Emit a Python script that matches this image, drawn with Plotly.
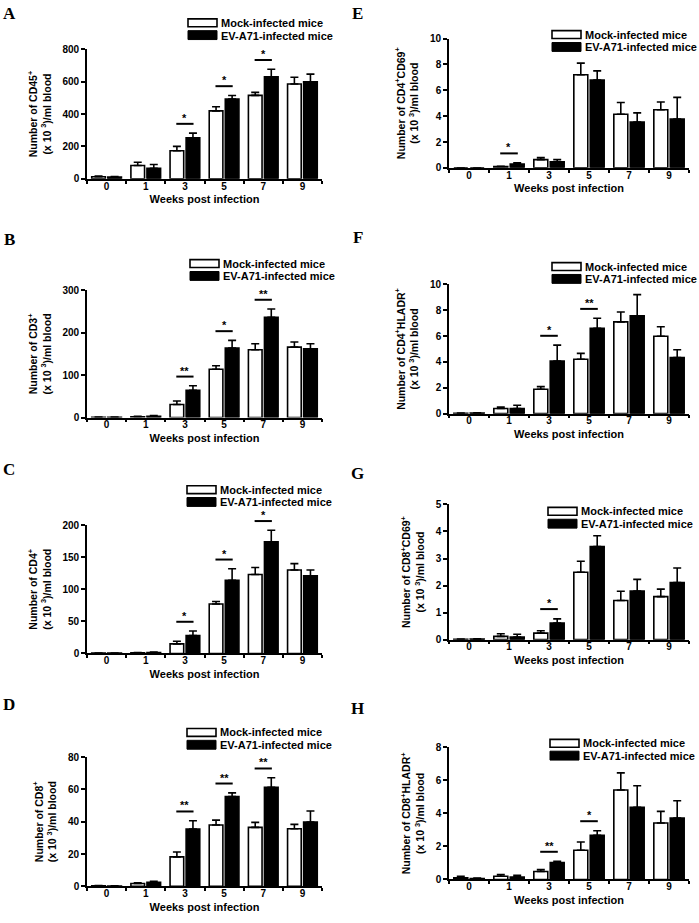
import plotly.graph_objects as go

# ---------------- data ----------------
weeks = ["0", "1", "3", "5", "7", "9"]
series_names = ["Mock-infected mice", "EV-A71-infected mice"]

cd45_mock = [12, 82, 173, 420, 516, 586]
cd45_mock_err = [5, 20, 27, 25, 18, 42]
cd45_ev = [10, 65, 253, 493, 631, 600]
cd45_ev_err = [4, 23, 29, 22, 46, 47]
cd45_sig = [("3", "*"), ("5", "*"), ("7", "*")]

cd3_mock = [0.8, 2, 31, 114, 160, 166]
cd3_mock_err = [0.5, 1, 8, 8, 14, 12]
cd3_ev = [0.8, 3, 64, 164, 236, 162]
cd3_ev_err = [0.5, 1.5, 11, 18, 20, 12]
cd3_sig = [("3", "**"), ("5", "*"), ("7", "**")]

cd4_mock = [0.5, 1, 15, 77, 123, 130]
cd4_mock_err = [0.3, 0.5, 4, 4, 11, 10]
cd4_ev = [0.5, 1.5, 28, 114, 174, 121]
cd4_ev_err = [0.3, 0.7, 7, 18, 18, 9]
cd4_sig = [("3", "*"), ("5", "*"), ("7", "*")]

cd8_mock = [0.3, 1.8, 18.3, 38, 36.5, 35.7]
cd8_mock_err = [0.2, 0.5, 3, 3, 3.1, 2.7]
cd8_ev = [0.2, 2.6, 35.5, 55.6, 61.3, 39.8]
cd8_ev_err = [0.1, 0.6, 5.1, 2.3, 5.9, 6.9]
cd8_sig = [("3", "**"), ("5", "**"), ("7", "**")]

cd4cd69_mock = [0, 0.1, 0.64, 7.2, 4.15, 4.5]
cd4cd69_mock_err = [0, 0.03, 0.15, 0.9, 0.9, 0.6]
cd4cd69_ev = [0, 0.3, 0.46, 6.8, 3.54, 3.77]
cd4cd69_ev_err = [0, 0.1, 0.18, 0.7, 0.71, 1.68]
cd4cd69_sig = [("1", "*")]

cd4hladr_mock = [0.03, 0.4, 1.88, 4.2, 7.1, 5.98]
cd4hladr_mock_err = [0.01, 0.1, 0.21, 0.46, 0.76, 0.74]
cd4hladr_ev = [0.05, 0.4, 4.07, 6.59, 7.56, 4.33]
cd4hladr_ev_err = [0.02, 0.25, 1.23, 0.79, 1.64, 0.61]
cd4hladr_sig = [("3", "*"), ("5", "**")]

cd8cd69_mock = [0.01, 0.12, 0.24, 2.49, 1.45, 1.59]
cd8cd69_mock_err = [0.01, 0.1, 0.09, 0.41, 0.34, 0.28]
cd8cd69_ev = [0.02, 0.1, 0.61, 3.44, 1.8, 2.11]
cd8cd69_ev_err = [0.01, 0.1, 0.16, 0.4, 0.43, 0.54]
cd8cd69_sig = [("3", "*")]

cd8hladr_mock = [0.1, 0.2, 0.48, 1.77, 5.41, 3.42]
cd8hladr_mock_err = [0.1, 0.1, 0.12, 0.5, 1.04, 0.7]
cd8hladr_ev = [0.06, 0.15, 1.03, 2.67, 4.36, 3.72]
cd8hladr_ev_err = [0.03, 0.1, 0.07, 0.28, 1.31, 1.04]
cd8hladr_sig = [("3", "**"), ("5", "*")]

y_labels = {
    "A": "CD45<sup>+</sup>", "B": "CD3<sup>+</sup>", "C": "CD4<sup>+</sup>", "D": "CD8<sup>+</sup>",
    "E": "CD4<sup>+</sup>CD69<sup>+</sup>", "F": "CD4<sup>+</sup>HLADR<sup>+</sup>",
    "G": "CD8<sup>+</sup>CD69<sup>+</sup>", "H": "CD8<sup>+</sup>HLADR<sup>+</sup>",
}
x_title = "Weeks post infection"

# ---------------- layout geometry (pixels) ----------------
W, H = 699, 923
COLS = [(87, 322), (449, 689)]

panels = [
    dict(letter="A", mock=cd45_mock, merr=cd45_mock_err, ev=cd45_ev, everr=cd45_ev_err, sig=cd45_sig,
         ymax=800, dtick=200, col=0, ypx=(44, 175), leg=(188, 13), lpos=(9, 8)),
    dict(letter="B", mock=cd3_mock, merr=cd3_mock_err, ev=cd3_ev, everr=cd3_ev_err, sig=cd3_sig,
         ymax=300, dtick=100, col=0, ypx=(288, 417), leg=(190, 257), lpos=(9, 237)),
    dict(letter="C", mock=cd4_mock, merr=cd4_mock_err, ev=cd4_ev, everr=cd4_ev_err, sig=cd4_sig,
         ymax=200, dtick=50, col=0, ypx=(526, 656), leg=(187, 486), lpos=(9, 470)),
    dict(letter="D", mock=cd8_mock, merr=cd8_mock_err, ev=cd8_ev, everr=cd8_ev_err, sig=cd8_sig,
         ymax=80, dtick=20, col=0, ypx=(761, 892), leg=(187, 732), lpos=(9, 708)),
    dict(letter="E", mock=cd4cd69_mock, merr=cd4cd69_mock_err, ev=cd4cd69_ev, everr=cd4cd69_ev_err, sig=cd4cd69_sig,
         ymax=10, dtick=2, col=1, ypx=(33, 164), leg=(552, 25), lpos=(358, 8)),
    dict(letter="F", mock=cd4hladr_mock, merr=cd4hladr_mock_err, ev=cd4hladr_ev, everr=cd4hladr_ev_err, sig=cd4hladr_sig,
         ymax=10, dtick=2, col=1, ypx=(282, 413), leg=(552, 260), lpos=(358, 235)),
    dict(letter="G", mock=cd8cd69_mock, merr=cd8cd69_mock_err, ev=cd8cd69_ev, everr=cd8cd69_ev_err, sig=cd8cd69_sig,
         ymax=5, dtick=1, col=1, ypx=(505, 642), leg=(548, 508), lpos=(358, 474)),
    dict(letter="H", mock=cd8hladr_mock, merr=cd8hladr_mock_err, ev=cd8hladr_ev, everr=cd8hladr_ev_err, sig=cd8hladr_sig,
         ymax=8, dtick=2, col=1, ypx=(751, 885), leg=(550, 743), lpos=(358, 712)),
]

FONT = "Liberation Sans, Arial, sans-serif"
SERIF = "Liberation Serif, Times New Roman, serif"


def fx(x):
    return x / W


def fy(y):
    return 1 - y / H


fig = go.Figure()
shapes = []
annotations = []
layout = {}

for i, p in enumerate(panels, start=1):
    sfx = "" if i == 1 else str(i)
    xa, ya = "x" + sfx, "y" + sfx
    zeros = [0] * len(weeks)
    fig.add_trace(go.Bar(
        x=weeks, y=p["mock"], name=series_names[0], xaxis=xa, yaxis=ya, showlegend=False,
        marker=dict(color="white", line=dict(color="black", width=1.6)),
        error_y=dict(type="data", symmetric=False, array=p["merr"], arrayminus=zeros,
                     color="black", thickness=1.6, width=4),
    ))
    fig.add_trace(go.Bar(
        x=weeks, y=p["ev"], name=series_names[1], xaxis=xa, yaxis=ya, showlegend=False,
        marker=dict(color="black", line=dict(color="black", width=1.6)),
        error_y=dict(type="data", symmetric=False, array=p["everr"], arrayminus=zeros,
                     color="black", thickness=1.6, width=4),
    ))
    x0, x1 = COLS[p["col"]]
    layout["xaxis" + sfx] = dict(
        domain=[fx(x0), fx(x1)], anchor=ya, type="category", showline=True, linecolor="black",
        linewidth=1.6, ticks="outside", tickson="boundaries", ticklen=3, tickwidth=1.6,
        tickcolor="black", showgrid=False, zeroline=False, fixedrange=True, ticklabelstandoff=-3,
        tickfont=dict(family=FONT, size=10, color="black", weight="bold"),
        title=dict(text=x_title, font=dict(family=FONT, size=11, color="black", weight="bold"), standoff=5),
    )
    layout["yaxis" + sfx] = dict(
        domain=[fy(p["ypx"][1]), fy(p["ypx"][0])], anchor=xa, range=[0, p["ymax"]],
        tickmode="linear", tick0=0, dtick=p["dtick"], showline=True, linecolor="black",
        linewidth=1.6, ticks="outside", ticklen=4, tickwidth=1.6, tickcolor="black",
        showgrid=False, zeroline=False, fixedrange=True,
        tickfont=dict(family=FONT, size=10, color="black", weight="bold"),
        title=dict(text="Number of " + y_labels[p["letter"]] + "<br>(x 10 <sup>3</sup>)/ml blood",
                   font=dict(family=FONT, size=10.5, color="black", weight="bold"), standoff=9),
    )
    # significance bars (y in axis-domain units so they may sit above the axis top)
    for wk, star in p["sig"]:
        k = weeks.index(wk)
        top = max(p["mock"][k] + p["merr"][k], p["ev"][k] + p["everr"][k])
        yl = top / p["ymax"] + 0.072
        shapes.append(dict(type="line", xref=xa, yref=ya + " domain", x0=k - 0.22, x1=k + 0.22,
                           y0=yl, y1=yl, line=dict(color="black", width=2)))
        annotations.append(dict(xref=xa, yref=ya + " domain", x=k, y=yl, text=star, showarrow=False,
                                yanchor="bottom", yshift=-2,
                                font=dict(family=FONT, size=11, color="black", weight="bold")))
    # legend (drawn)
    lx, ly = p["leg"]
    shapes.append(dict(type="rect", xref="paper", yref="paper", x0=fx(lx), x1=fx(lx + 29),
                       y0=fy(ly + 8), y1=fy(ly), fillcolor="white", line=dict(color="black", width=1.6)))
    shapes.append(dict(type="rect", xref="paper", yref="paper", x0=fx(lx), x1=fx(lx + 29),
                       y0=fy(ly + 21), y1=fy(ly + 12), fillcolor="black", line=dict(color="black", width=1)))
    annotations.append(dict(xref="paper", yref="paper", x=fx(lx + 31), y=fy(ly + 4), text=series_names[0],
                            showarrow=False, xanchor="left", yanchor="middle",
                            font=dict(family=FONT, size=11, color="black", weight="bold")))
    annotations.append(dict(xref="paper", yref="paper", x=fx(lx + 31), y=fy(ly + 17), text=series_names[1],
                            showarrow=False, xanchor="left", yanchor="middle",
                            font=dict(family=FONT, size=11, color="black", weight="bold")))
    # panel letter
    annotations.append(dict(xref="paper", yref="paper", x=fx(p["lpos"][0]), y=fy(p["lpos"][1]),
                            text=p["letter"], showarrow=False, xanchor="center", yanchor="middle",
                            font=dict(family=SERIF, size=17, color="black", weight="bold")))

fig.update_layout(
    width=W, height=H, margin=dict(l=0, r=0, t=0, b=0), paper_bgcolor="white", plot_bgcolor="white",
    barmode="group", bargap=0.18, bargroupgap=0.15, showlegend=False,
    shapes=shapes, annotations=annotations, **layout,
)

fig.write_html("out.html", config={"displayModeBar": False},
               post_script="document.body.style.margin='0px';")
